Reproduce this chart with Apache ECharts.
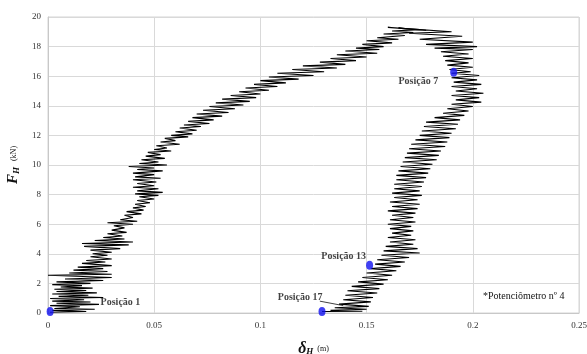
<!DOCTYPE html>
<html>
<head>
<meta charset="utf-8">
<script src="https://cdn.jsdelivr.net/npm/echarts@6/dist/echarts.min.js"></script>
<style>
  html, body { margin: 0; padding: 0; background: #ffffff; }
  #chart { width: 587px; height: 354px; }
</style>
</head>
<body>
<div id="chart"></div>
<script>
// Axis ticks
const deltaTicks = [0, 0.05, 0.1, 0.15, 0.2, 0.25];
const forceTicks = [0, 2, 4, 6, 8, 10, 12, 14, 16, 18, 20];

// Loading branch: [δH (m), FH (kN)]
const loadingPath = [
  [0.001,0.05],[0.018,0.1],[0.002,0.18],[0.022,0.25],[0.003,0.3],[0.015,0.42],[0.001,0.5],[0.024,0.58],
  [0.004,0.66],[0.02,0.74],[0.002,0.8],[0.017,0.9],[0.001,0.98],[0.026,1.05],[0.005,1.12],[0.019,1.2],
  [0.002,1.28],[0.023,1.36],[0.004,1.45],[0.018,1.52],[0.003,1.6],[0.021,1.68],[0.006,1.76],[0.016,1.85],
  [0.002,1.92],[0.02,2.0],[0.004,2.1],[0.026,2.2],[0.008,2.3],[0.03,2.4],[0.0,2.55],[0.03,2.62],
  [0.01,2.7],[0.028,2.8],[0.012,2.9],[0.026,3.0],[0.014,3.1],[0.03,3.2],[0.016,3.35],[0.027,3.45],
  [0.018,3.55],[0.03,3.65],[0.02,3.8],[0.028,3.9],[0.021,4.0],[0.03,4.1],[0.02,4.25],[0.034,4.35],
  [0.017,4.5],[0.038,4.6],[0.016,4.7],[0.04,4.8],[0.022,4.9],[0.036,5.0],[0.026,5.1],[0.035,5.2],
  [0.028,5.35],[0.037,5.45],[0.03,5.6],[0.036,5.75],[0.031,5.9],[0.04,6.0],[0.028,6.1],[0.042,6.2],
  [0.034,6.3],[0.04,6.45],[0.036,6.6],[0.044,6.7],[0.037,6.85],[0.045,6.95],[0.04,7.1],[0.046,7.2],
  [0.041,7.35],[0.048,7.45],[0.042,7.6],[0.05,7.7],[0.043,7.85],[0.052,7.95],[0.041,8.05],[0.054,8.15],
  [0.042,8.25],[0.052,8.4],[0.04,8.5],[0.05,8.6],[0.042,8.75],[0.051,8.85],[0.04,9.0],[0.053,9.1],
  [0.041,9.2],[0.05,9.35],[0.04,9.45],[0.054,9.6],[0.042,9.7],[0.05,9.8],[0.038,9.9],[0.056,10.0],
  [0.043,10.1],[0.052,10.2],[0.044,10.35],[0.055,10.45],[0.046,10.6],[0.053,10.7],[0.047,10.85],[0.058,10.95],
  [0.05,11.05],[0.056,11.15],[0.051,11.3],[0.062,11.4],[0.053,11.55],[0.06,11.65],[0.055,11.8],[0.066,11.9],
  [0.058,12.0],[0.068,12.1],[0.06,12.25],[0.07,12.35],[0.062,12.5],[0.072,12.6],[0.064,12.7],[0.076,12.8],
  [0.066,12.95],[0.078,13.05],[0.068,13.2],[0.082,13.3],[0.07,13.45],[0.085,13.55],[0.073,13.7],[0.088,13.8],
  [0.076,13.95],[0.092,14.05],[0.079,14.2],[0.095,14.3],[0.082,14.45],[0.098,14.55],[0.086,14.7],[0.1,14.8],
  [0.09,14.95],[0.104,15.05],[0.093,15.2],[0.108,15.3],[0.097,15.45],[0.112,15.55],[0.1,15.7],[0.118,15.8],
  [0.104,15.95],[0.125,16.05],[0.108,16.2],[0.13,16.3],[0.115,16.45],[0.136,16.55],[0.12,16.7],[0.14,16.8],
  [0.128,16.95],[0.145,17.05],[0.133,17.2],[0.15,17.3],[0.136,17.45],[0.155,17.55],[0.14,17.7],[0.156,17.8],
  [0.145,17.9],[0.158,18.0],[0.148,18.15],[0.162,18.25],[0.15,18.4],[0.165,18.5],[0.155,18.6],[0.168,18.75],
  [0.158,18.85],[0.172,18.95],[0.162,19.05],[0.175,19.15],[0.165,19.25],[0.178,19.1]
];

// Unloading branch: [δH (m), FH (kN)]
const unloadingPath = [
  [0.178,19.1],[0.16,19.3],[0.19,19.0],[0.17,18.9],[0.195,18.7],[0.175,18.5],[0.2,18.3],[0.178,18.15],
  [0.202,18.0],[0.182,17.9],[0.2,17.8],[0.185,17.65],[0.198,17.5],[0.186,17.35],[0.2,17.2],[0.187,17.05],
  [0.198,16.9],[0.188,16.75],[0.2,16.6],[0.189,16.45],[0.199,16.3],[0.19,16.2],[0.203,16.05],[0.19,15.9],
  [0.202,15.75],[0.191,15.6],[0.204,15.45],[0.19,15.3],[0.202,15.15],[0.192,15.0],[0.205,14.85],[0.19,14.7],
  [0.203,14.55],[0.192,14.4],[0.204,14.25],[0.19,14.1],[0.2,13.95],[0.188,13.8],[0.198,13.65],[0.186,13.5],
  [0.196,13.35],[0.182,13.2],[0.194,13.05],[0.178,12.9],[0.193,12.75],[0.177,12.6],[0.192,12.45],[0.176,12.3],
  [0.19,12.15],[0.175,12.0],[0.189,11.85],[0.173,11.7],[0.188,11.55],[0.171,11.4],[0.187,11.25],[0.17,11.1],
  [0.185,10.95],[0.169,10.8],[0.184,10.65],[0.168,10.5],[0.183,10.35],[0.167,10.2],[0.181,10.05],[0.166,9.9],
  [0.18,9.75],[0.165,9.6],[0.179,9.45],[0.164,9.3],[0.178,9.15],[0.164,9.0],[0.177,8.85],[0.163,8.7],
  [0.176,8.55],[0.163,8.4],[0.175,8.25],[0.162,8.1],[0.176,7.95],[0.163,7.8],[0.174,7.65],[0.161,7.5],
  [0.175,7.35],[0.162,7.2],[0.174,7.05],[0.16,6.9],[0.173,6.75],[0.162,6.6],[0.172,6.45],[0.161,6.3],
  [0.173,6.15],[0.16,6.0],[0.171,5.85],[0.161,5.7],[0.172,5.55],[0.162,5.4],[0.171,5.25],[0.16,5.1],
  [0.173,4.95],[0.161,4.8],[0.172,4.65],[0.159,4.5],[0.174,4.35],[0.158,4.2],[0.175,4.05],[0.157,3.9],
  [0.17,3.75],[0.155,3.6],[0.168,3.45],[0.154,3.3],[0.166,3.15],[0.152,3.0],[0.164,2.85],[0.15,2.7],
  [0.162,2.55],[0.148,2.4],[0.16,2.25],[0.146,2.1],[0.158,1.95],[0.143,1.8],[0.156,1.65],[0.141,1.5],
  [0.155,1.35],[0.14,1.2],[0.153,1.05],[0.139,0.9],[0.152,0.75],[0.137,0.6],[0.151,0.45],[0.135,0.35],
  [0.15,0.25],[0.133,0.18],[0.148,0.12],[0.131,0.1],[0.129,0.1]
];

// Measurement positions
const positionNames = ['Posição 1', 'Posição 7', 'Posição 13', 'Posição 17'];
const positionDelta = [0.001, 0.191, 0.1514, 0.129];
const positionForce = [0.1, 16.27, 3.23, 0.1];

const serif = '"Liberation Serif", "DejaVu Serif", serif';
const labelOffsets = [
  { position: [54, -4.5], align: 'left' },
  { position: [-12, 13.5], align: 'right' },
  { position: [0, -4.5], align: 'right' },
  { position: [4, -9.5], align: 'right' }
];

const chart = echarts.init(document.getElementById('chart'), null, { renderer: 'canvas' });

chart.setOption({
  animation: false,
  backgroundColor: '#ffffff',
  grid: {
    left: 48, right: 8, top: 17, bottom: 41,
    containLabel: false, outerBoundsMode: 'none',
    show: true, borderColor: '#d4d4d4', borderWidth: 1
  },
  xAxis: {
    type: 'value',
    min: deltaTicks[0], max: deltaTicks[deltaTicks.length - 1], interval: 0.05,
    axisLine: { show: true, lineStyle: { color: '#c8c8c8' } },
    axisTick: { show: false },
    splitLine: { show: true, lineStyle: { color: '#d9d9d9', width: 1 } },
    axisLabel: { fontFamily: serif, fontSize: 9, color: '#333', margin: 8 },
    name: '{d|δ}{s|H}{u|  (m)}',
    nameLocation: 'middle',
    nameGap: 28,
    nameTextStyle: {
      rich: {
        d: { fontFamily: serif, fontSize: 16, fontWeight: 'bold', fontStyle: 'italic', color: '#111', verticalAlign: 'bottom' },
        s: { fontFamily: serif, fontSize: 9, fontWeight: 'bold', fontStyle: 'italic', color: '#111', padding: [6, 0, 0, 0] },
        u: { fontFamily: serif, fontSize: 8, color: '#111' }
      }
    }
  },
  yAxis: {
    type: 'value',
    min: forceTicks[0], max: forceTicks[forceTicks.length - 1], interval: 2,
    axisLine: { show: true, lineStyle: { color: '#c8c8c8' } },
    axisTick: { show: false },
    splitLine: { show: true, lineStyle: { color: '#d9d9d9', width: 1 } },
    axisLabel: { fontFamily: serif, fontSize: 9, color: '#333', margin: 7 },
    name: '{f|F}{s|H}{u|   (kN)}',
    nameLocation: 'middle',
    nameGap: 27,
    nameTextStyle: {
      rich: {
        f: { fontFamily: serif, fontSize: 15, fontWeight: 'bold', fontStyle: 'italic', color: '#111' },
        s: { fontFamily: serif, fontSize: 9, fontWeight: 'bold', fontStyle: 'italic', color: '#111', padding: [6, 0, 0, 0] },
        u: { fontFamily: serif, fontSize: 8, color: '#111' }
      }
    }
  },
  graphic: [{
    type: 'text',
    left: 483, top: 291,
    style: { text: '*Potenciômetro nº 4', font: '10px ' + serif, fill: '#111' },
    z: 100
  }],
  series: [
    {
      type: 'line', data: loadingPath, showSymbol: false, smooth: false,
      lineStyle: { color: '#000', width: 1.1 }, z: 2
    },
    {
      type: 'line', data: unloadingPath, showSymbol: false, smooth: false,
      lineStyle: { color: '#000', width: 1.1 }, z: 2
    },
    {
      type: 'scatter',
      symbol: 'circle', symbolSize: [7, 9],
      itemStyle: { color: '#1010f0' },
      z: 5,
      data: positionNames.map((n, i) => ({
        value: [positionDelta[i], positionForce[i]],
        name: n,
        label: {
          show: true, formatter: n,
          position: labelOffsets[i].position,
          align: labelOffsets[i].align, verticalAlign: 'middle',
          fontFamily: serif, fontSize: 10, fontWeight: 'bold', color: '#111'
        }
      })),
      markLine: {
        silent: true, symbol: 'none',
        lineStyle: { color: '#111', width: 0.8, type: 'solid' },
        label: { show: false },
        data: [[{ coord: [0.128, 0.8] }, { coord: [0.139, 0.5] }]]
      }
    }
  ]
});
</script>
</body>
</html>
